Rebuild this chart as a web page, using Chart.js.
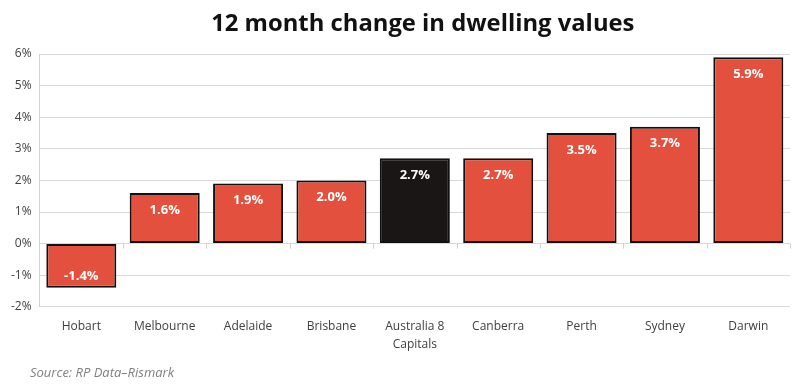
<!DOCTYPE html>
<html>
<head>
<meta charset="utf-8">
<script src="https://cdn.jsdelivr.net/npm/chart.js@4/dist/chart.umd.min.js"></script>
<style>
  html, body { margin: 0; padding: 0; background: #fff; }
  #wrap { width: 800px; height: 384px; position: relative; }
</style>
</head>
<body>
<div id="wrap"><canvas id="chart"></canvas></div>
<script>
// city names on the x axis
const cities = ["Hobart", "Melbourne", "Adelaide", "Brisbane", ["Australia 8", "Capitals"], "Canberra", "Perth", "Sydney", "Darwin"];
// 12 month change, percent
const changes = [-1.4, 1.6, 1.9, 2.0, 2.7, 2.7, 3.5, 3.7, 5.9];
// which bar is the national one (drawn black)
const isNational = [false, false, false, false, true, false, false, false, false];

const chartTitle = "12 month change in dwelling values";
const sourceNote = "Source: RP Data\u2013Rismark";

const RED = "#e4503e";
const BLACK = "#1b1616";

// white labels inside the end of each bar
const barLabels = {
  id: "barLabels",
  afterDatasetsDraw(chart) {
    const ctx = chart.ctx;
    const meta = chart.getDatasetMeta(0);
    ctx.save();
    ctx.fillStyle = "#ffffff";
    ctx.font = "bold 13px 'Open Sans', sans-serif";
    ctx.textAlign = "center";
    ctx.textBaseline = "middle";
    meta.data.forEach((bar, i) => {
      const v = changes[i];
      const y = v >= 0 ? bar.y + 17 : bar.y - 12;
      ctx.fillText(v.toFixed(1) + "%", bar.x, y);
    });
    ctx.restore();
  }
};

// little tick marks on the zero line between categories
const zeroTicks = {
  id: "zeroTicks",
  beforeDatasetsDraw(chart) {
    const ctx = chart.ctx;
    const x = chart.scales.x;
    const y0 = chart.scales.y.getPixelForValue(0);
    const step = (x.right - x.left) / cities.length;
    ctx.save();
    ctx.strokeStyle = "#d0d0d0";
    ctx.lineWidth = 1;
    ctx.beginPath();
    for (let i = 1; i <= cities.length; i++) {
      const px = Math.round(x.left + step * i) + 0.5;
      ctx.moveTo(px, y0);
      ctx.lineTo(px, y0 + 5);
    }
    ctx.stroke();
    ctx.restore();
  }
};

// title centred over the plot, source note bottom left
const texts = {
  id: "texts",
  afterDraw(chart) {
    const ctx = chart.ctx;
    const area = chart.chartArea;
    ctx.save();
    ctx.fillStyle = "#111111";
    ctx.font = "bold 23.8px 'Open Sans', sans-serif";
    ctx.textAlign = "center";
    ctx.textBaseline = "alphabetic";
    ctx.fillText(chartTitle, (area.left + area.right) / 2 + 8, 31);
    ctx.fillStyle = "#7f7f7f";
    ctx.font = "italic 13px 'Open Sans', sans-serif";
    ctx.textAlign = "left";
    ctx.fillText(sourceNote, 30, 377);
    ctx.restore();
  }
};

new Chart(document.getElementById("chart"), {
  type: "bar",
  data: {
    labels: cities,
    datasets: [{
      data: changes,
      backgroundColor: isNational.map(n => n ? BLACK : RED),
      borderColor: "#111111",
      borderWidth: 2,
      borderSkipped: false,
      categoryPercentage: 1,
      barPercentage: 0.84
    }]
  },
  options: {
    responsive: true,
    maintainAspectRatio: false,
    animation: false,
    layout: { padding: { left: 3, right: 10, top: 54, bottom: 20 } },
    plugins: {
      legend: { display: false },
      tooltip: { enabled: false },
      title: { display: false }
    },
    scales: {
      x: {
        grid: { display: false, drawTicks: false },
        border: { display: false },
        ticks: {
          color: "#404040",
          font: { family: "'Open Sans', sans-serif", size: 12, lineHeight: 1.55 },
          padding: 10,
          maxRotation: 0,
          autoSkip: false
        }
      },
      y: {
        min: -2,
        max: 6,
        ticks: {
          stepSize: 1,
          color: "#404040",
          font: { family: "'Open Sans', sans-serif", size: 12 },
          padding: 8,
          callback: v => v + "%"
        },
        grid: { color: "#d9d9d9", drawTicks: false },
        border: { display: true, color: "#d0d0d0" }
      }
    }
  },
  plugins: [zeroTicks, barLabels, texts]
});
</script>
</body>
</html>
